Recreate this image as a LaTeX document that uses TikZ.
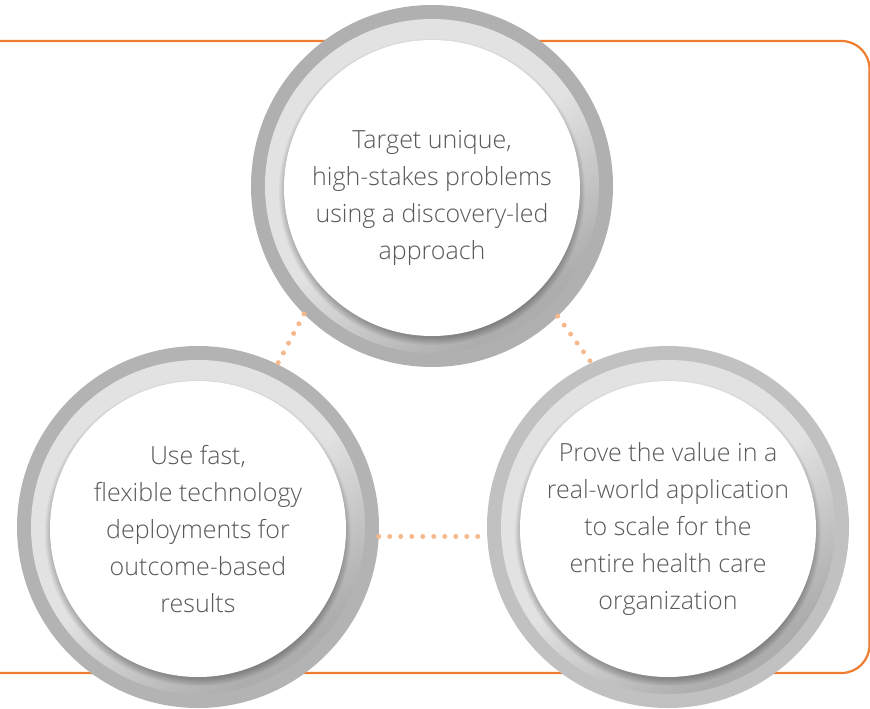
\documentclass[tikz,border=0pt]{standalone}
\usepackage{fontspec}
\setmainfont{Open Sans Light}
\definecolor{frameorange}{HTML}{ED7D31}
\definecolor{dotorange}{HTML}{F6B98C}
\definecolor{ringtop}{HTML}{B0B0B0}
\definecolor{ringleft}{HTML}{B3B3B3}
\definecolor{ringright}{HTML}{C1C1C1}
\definecolor{ringlight}{HTML}{E2E2E2}
\definecolor{ringshade}{HTML}{ADADAD}
\definecolor{textgray}{HTML}{595959}
% inner band: light over most of the ring, darkening towards one side
\pgfdeclareverticalshading{ringfade}{100bp}{color(0bp)=(ringshade); color(27bp)=(ringshade); color(50bp)=(ringlight); color(100bp)=(ringlight)}
\begin{document}
\begin{tikzpicture}[x=1pt,y=-1pt,
  frameline/.style={draw=frameorange, line width=2.2pt, rounded corners=28pt},
  link/.style={draw=dotorange, line width=5pt, line cap=round, dash pattern=on 0pt off 11pt},
  ringbase/.style={circle, minimum size=362pt, inner sep=0pt, outer sep=0pt},
  circletext/.style={text=textgray, align=center, font=\fontsize{25}{37}\selectfont},
]
\useasboundingbox (0,0) rectangle (870,709);

% orange frame, running off the left edge
\draw[frameline] (-40,41) rectangle (869.5,673);

% the three rings: outer band, shaded inner band, white face with soft shadow below
\foreach \n/\cx/\cy/\oc in {T/432/186/ringtop, L/198/527/ringleft, R/668/527/ringright} {
  \node[ringbase, fill=\oc] (\n) at (\cx,\cy) {};
  \shade[shading=ringfade, shading angle=35] (\cx,\cy) circle[radius=167];
  \foreach \k in {1,...,8} {
    \fill[black, opacity=0.035] (\cx,\cy+6) circle[radius=145+\k];
  }
  \fill[white] (\cx,\cy+2) circle[radius=148];
}

% dotted links between the rings
\draw[link] (T.225.7) -- (L.64.6);
\draw[link] (T.314.8) -- (R.115.6);
\draw[link] (L.-3.5) -- (R.183.5);

% texts
\node[circletext] (Tt) at (432,198) {Target unique,\\high-stakes problems\\using a discovery-led\\approach};
\node[circletext] (Lt) at (198,529) {Use fast,\\flexible technology\\deployments for\\outcome-based\\results};
\node[circletext] (Rt) at (668,529) {Prove the value in a\\real-world application\\to scale for the\\entire health care\\organization};
\end{tikzpicture}
\end{document}
